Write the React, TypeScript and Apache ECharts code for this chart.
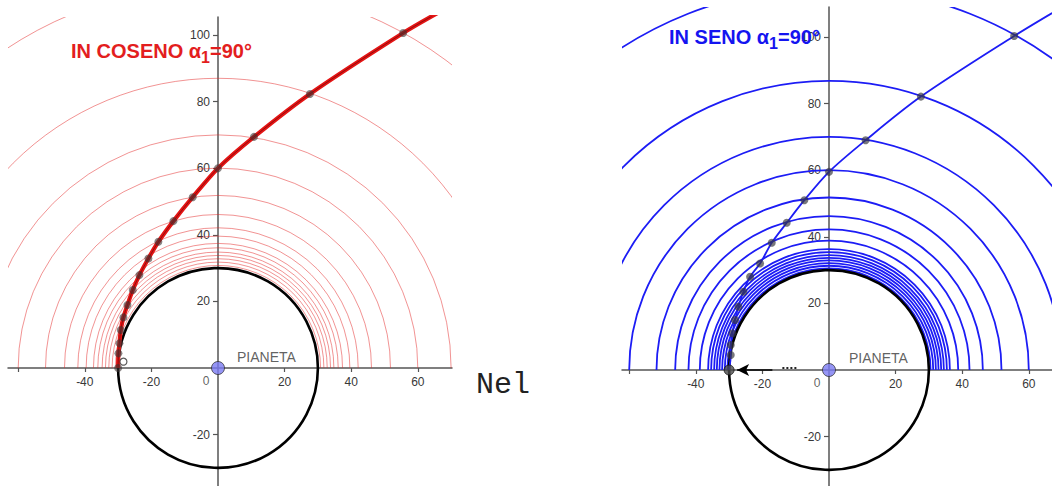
import React, { useEffect, useRef } from 'react';
import * as echarts from 'echarts';

// ---------- data ----------
// Left panel: "IN COSENO"
const cosRadii = [30.8, 31.8, 32.8, 33.8, 34.8, 36.1, 37.4, 39.6, 42.1, 46.1, 51.8, 60, 70, 87, 115];
const cosX = [-30, -29.9, -29.6, -29.2, -28.4, -27.2, -25.6, -23.6, -20.9, -17.9, -13.4, -7.6, 0, 10.8, 27.6, 55.6];
const cosY = [0, 4.4, 7.4, 11.4, 15.2, 18.9, 23.4, 27.9, 32.9, 37.9, 44.1, 51.3, 60, 69.4, 82.3, 100.6];
const cosHollow = [-28.4, 1.9];

// Right panel: "IN SENO"
const senRadii = [30.5, 31.3, 32.1, 32.9, 33.7, 34.5, 35.4, 36.3, 38.8, 42.2, 46.2, 51.8, 60, 70, 86.8, 115];
const senX = [-30, -29.5, -29.5, -29, -28.2, -27.2, -25.7, -23.7, -20.7, -17.2, -12.7, -7.4, 0, 11, 27.6, 55.6];
const senY = [0, 4.5, 7.5, 11, 15, 19, 23.5, 28, 32, 38.2, 44.2, 51, 59.5, 69, 82.1, 100.3];

const trajExit = [67, 107.2];
const planetRadius = [30];
const planetCenter = [0, 0];
const arrowX = [-17, -27.6];
const dottedX = [-14, -9.6];
const dottedY = 0.6;

const xTickValues = [-60, -40, -20, 20, 40, 60];
const xLabelValues = [-40, -20, 20, 40, 60];
const yTickValues = [-20, 20, 40, 60, 80, 100];
const yLabelValues = [-20, 20, 40, 60, 80, 100];

const planetLabel = 'PIANETA';
const cosTitle = 'IN COSENO α{s|1}=90°';
const senTitle = 'IN SENO α{s|1}=90°';
const sideText = 'Nel';

// ---------- layout ----------
const PX = 3.33; // pixels per unit, same on both axes
const panels = [
  { left: 8, top: 17, width: 444, height: 469, ox: 218, oy: 368 },
  { left: 622, top: 7, width: 430, height: 479, ox: 829, oy: 370 },
];

const zip = (xs: number[], ys: number[]) => xs.map((x, i) => [x, ys[i]]);

const FONT = '"Liberation Sans", Arial, sans-serif';
const AXIS_COLOR = '#555';
const LABEL_COLOR = '#383838';

function arcRender(color: string, width: number) {
  return (params: any, api: any) => {
    const c = api.coord(planetCenter);
    const r = api.size([api.value(0), 0])[0];
    return {
      type: 'arc',
      shape: { cx: c[0], cy: c[1], r, startAngle: Math.PI, endAngle: Math.PI * 2, clockwise: true },
      style: { stroke: color, lineWidth: width, fill: 'none' },
    };
  };
}

function circleRender(color: string, width: number) {
  return (params: any, api: any) => {
    const c = api.coord(planetCenter);
    const r = api.size([api.value(0), 0])[0];
    return {
      type: 'circle',
      shape: { cx: c[0], cy: c[1], r },
      style: { stroke: color, lineWidth: width, fill: 'none' },
    };
  };
}

function commonSeries(i: number) {
  return [
    {
      type: 'custom',
      xAxisIndex: i,
      yAxisIndex: i,
      clip: true,
      renderItem: circleRender('#000', 2.6),
      data: planetRadius.map((r) => [r, 0]),
      z: 4,
      silent: true,
    },
    {
      type: 'scatter',
      xAxisIndex: i,
      yAxisIndex: i,
      data: [planetCenter],
      symbolSize: 13,
      itemStyle: { color: '#7a7af2', borderColor: '#333', borderWidth: 1 },
      z: 10,
      silent: true,
    },
    {
      type: 'scatter',
      xAxisIndex: i,
      yAxisIndex: i,
      data: [planetCenter],
      symbolSize: 0,
      label: {
        show: true,
        formatter: '0',
        position: 'inside',
        offset: [-12, 13],
        color: LABEL_COLOR,
        fontSize: 12,
        fontFamily: FONT,
      },
      z: 10,
      silent: true,
    },
    {
      type: 'scatter',
      xAxisIndex: i,
      yAxisIndex: i,
      data: [planetCenter],
      symbolSize: 0,
      label: {
        show: true,
        formatter: planetLabel,
        position: 'inside',
        align: 'left',
        verticalAlign: 'middle',
        offset: [i === 0 ? 19 : 20, i === 0 ? -11 : -12],
        color: LABEL_COLOR,
        fontSize: 14,
        fontFamily: FONT,
      },
      z: 10,
      silent: true,
    },
  ];
}

function buildOption() {
  const grids = panels.map((p) => ({
    left: p.left,
    top: p.top,
    width: p.width,
    height: p.height,
    containLabel: false,
    outerBoundsMode: 'none',
  }));
  const xAxes = panels.map((p, i) => ({
    type: 'value',
    gridIndex: i,
    position: 'bottom',
    offset: -(p.top + p.height - p.oy),
    min: (p.left - p.ox) / PX,
    max: (p.left + p.width - p.ox) / PX,
    axisLine: { onZero: false, lineStyle: { color: AXIS_COLOR, width: 1.5 } },
    axisTick: { show: true, customValues: xTickValues, length: 4, lineStyle: { color: AXIS_COLOR, width: 1.2 } },
    axisLabel: { show: true, customValues: xLabelValues, color: LABEL_COLOR, fontSize: 12, fontFamily: FONT, margin: 8 },
    splitLine: { show: false },
  }));
  const yAxes = panels.map((p, i) => ({
    type: 'value',
    gridIndex: i,
    position: 'left',
    offset: -(p.ox - p.left),
    min: (p.oy - p.top - p.height) / PX,
    max: (p.oy - p.top) / PX,
    axisLine: { onZero: false, lineStyle: { color: AXIS_COLOR, width: 1.5 } },
    axisTick: { show: true, customValues: yTickValues, length: 5, lineStyle: { color: AXIS_COLOR, width: 1.2 } },
    axisLabel: { show: true, customValues: yLabelValues, color: LABEL_COLOR, fontSize: 12, fontFamily: FONT, margin: 8 },
    splitLine: { show: false },
  }));

  const cosPts = zip(cosX, cosY);
  const senPts = zip(senX, senY);

  const series: any[] = [
    // ----- left panel -----
    {
      type: 'custom',
      xAxisIndex: 0,
      yAxisIndex: 0,
      clip: true,
      renderItem: arcRender('rgba(228,40,40,0.5)', 1),
      data: cosRadii.map((r) => [r, 0]),
      z: 1,
      silent: true,
    },
    ...commonSeries(0),
    {
      type: 'line',
      xAxisIndex: 0,
      yAxisIndex: 0,
      data: [...cosPts, trajExit],
      smooth: 0.3,
      showSymbol: false,
      lineStyle: { color: '#e41414', width: 4.2 },
      z: 5,
      silent: true,
    },
    {
      type: 'line',
      xAxisIndex: 0,
      yAxisIndex: 0,
      data: [...cosPts, trajExit],
      smooth: 0.3,
      showSymbol: false,
      lineStyle: { color: '#300', width: 1, opacity: 0.45 },
      z: 6,
      silent: true,
    },
    {
      type: 'scatter',
      xAxisIndex: 0,
      yAxisIndex: 0,
      data: cosPts,
      symbolSize: 8,
      itemStyle: { color: 'rgba(60,50,50,0.75)' },
      z: 7,
      silent: true,
    },
    {
      type: 'scatter',
      xAxisIndex: 0,
      yAxisIndex: 0,
      data: [cosHollow],
      symbolSize: 7,
      itemStyle: { color: '#fff', borderColor: '#333', borderWidth: 1.2 },
      z: 8,
      silent: true,
    },
    // ----- right panel -----
    {
      type: 'custom',
      xAxisIndex: 1,
      yAxisIndex: 1,
      clip: true,
      renderItem: arcRender('#1c1cf5', 1.8),
      data: senRadii.map((r) => [r, 0]),
      z: 1,
      silent: true,
    },
    ...commonSeries(1),
    {
      type: 'line',
      xAxisIndex: 1,
      yAxisIndex: 1,
      data: [...senPts, trajExit],
      smooth: 0.3,
      showSymbol: false,
      lineStyle: { color: '#1c1cf5', width: 1.8 },
      z: 5,
      silent: true,
    },
    {
      type: 'scatter',
      xAxisIndex: 1,
      yAxisIndex: 1,
      data: senPts.slice(1),
      symbolSize: 8,
      itemStyle: { color: 'rgba(55,55,60,0.85)' },
      z: 7,
      silent: true,
    },
    {
      type: 'scatter',
      xAxisIndex: 1,
      yAxisIndex: 1,
      data: [senPts[0]],
      symbolSize: 10,
      itemStyle: { color: '#4a4a4a', borderColor: '#111', borderWidth: 1 },
      z: 9,
      silent: true,
    },
    {
      type: 'line',
      xAxisIndex: 1,
      yAxisIndex: 1,
      data: dottedX.map((x) => [x, dottedY]),
      showSymbol: false,
      lineStyle: { color: '#222', width: 2, type: [2, 2] },
      z: 6,
      silent: true,
      markLine: {
        silent: true,
        symbol: ['none', 'arrow'],
        symbolSize: [9, 12],
        label: { show: false },
        lineStyle: { color: '#000', width: 1.5, type: 'solid' },
        data: [[{ coord: [arrowX[0], 0] }, { coord: [arrowX[1], 0] }]],
      },
    },
  ];

  const titleStyle = (color: string) => ({
    color,
    fontSize: 20,
    fontWeight: 'bold',
    fontFamily: FONT,
    rich: {
      s: { color, fontSize: 16, fontWeight: 'bold', fontFamily: FONT, padding: [13, 0, 0, 0] },
    },
  });

  return {
    animation: false,
    backgroundColor: '#fff',
    title: [
      { text: cosTitle, left: 66, top: 31, textStyle: titleStyle('#e31e1e') },
      { text: senTitle, left: 664, top: 17, textStyle: titleStyle('#1414f0') },
    ],
    grid: grids,
    xAxis: xAxes,
    yAxis: yAxes,
    series,
    graphic: [
      {
        type: 'text',
        left: 476,
        top: 370,
        style: {
          text: sideText,
          fill: '#222',
          font: 'normal 30px "Liberation Mono", "Courier New", monospace',
        },
      },
    ],
  };
}

export default function App() {
  const ref = useRef<HTMLDivElement>(null);
  useEffect(() => {
    if (!ref.current) return;
    const chart = echarts.init(ref.current, undefined, { renderer: 'svg' });
    chart.setOption(buildOption() as any);
    return () => chart.dispose();
  }, []);
  return (
    <div
      ref={ref}
      style={{ position: 'fixed', left: 0, top: 0, width: 1052, height: 486, background: '#fff' }}
    />
  );
}
